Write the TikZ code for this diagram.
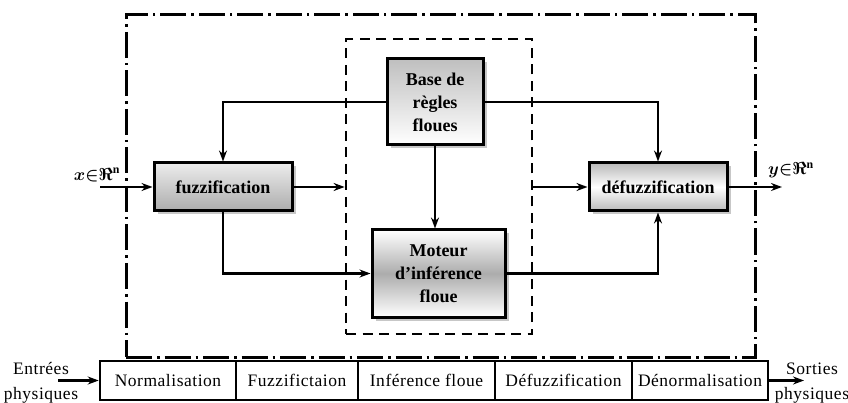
\documentclass[tikz,border=0pt]{standalone}
\usepackage{amsmath,amssymb}
\usepackage{fontspec}
\setmainfont{Liberation Serif}
\newfontfamily\rowfont[LetterSpace=3]{Liberation Serif}
\usetikzlibrary{arrows.meta,shadows}
\tikzset{
  conn/.style={line width=2.4pt,-{Stealth[length=11pt,width=8pt]}},
  blockbox/.style={draw,line width=3pt,align=center,inner sep=0pt,
    font=\fontsize{18}{23}\selectfont\bfseries,
    drop shadow={shadow xshift=3.5pt,shadow yshift=-3.5pt,fill=gray!55,opacity=.8}},
  cell/.style={draw,line width=2.6pt,minimum height=39pt,inner sep=0pt,
    font=\rowfont\fontsize{17.5}{20}\selectfont},
  sidetext/.style={align=center,inner sep=0pt,font=\rowfont\fontsize{17.5}{25}\selectfont},
  mathlabel/.style={inner sep=0pt,font=\fontsize{17}{20}\selectfont}
}
\begin{document}
\begin{tikzpicture}[x=1pt,y=-1pt]
\useasboundingbox (0,0) rectangle (848,403);
% frames
\node[draw,line width=3pt,dash pattern=on 26pt off 5pt on 2.5pt off 5pt,
      minimum width=629pt,minimum height=342pt,inner sep=0pt] (outer) at (440.5,186) {};
\node[draw,line width=2.8pt,dash pattern=on 10pt off 6.5pt,
      minimum width=186pt,minimum height=295pt,inner sep=0pt] (inner) at (439,186.5) {};
% blocks
\node[blockbox,minimum width=96pt,minimum height=86pt,
      top color=gray!50,bottom color=white] (base) at (435,102) {Base de\\règles\\floues};
\node[blockbox,minimum width=133pt,minimum height=87pt,
      top color=white,bottom color=white,middle color=gray!65] (moteur) at (438.5,273.5) {Moteur\\d’inférence\\floue};
\node[blockbox,minimum width=138pt,minimum height=48pt,
      top color=gray!15,bottom color=gray!65] (fuzz) at (223,187) {fuzzification};
\node[blockbox,minimum width=138pt,minimum height=48pt,
      top color=gray!55,bottom color=gray!55,middle color=white] (defuzz) at (658,187) {défuzzification};
% labels
\node[mathlabel] (xlab) at (97,175) {$\boldsymbol{x{\in}\Re^{\mathrm{n}}}$};
\node[mathlabel] (ylab) at (791,170) {$\boldsymbol{y{\in}\Re^{\mathrm{n}}}$};
\coordinate (xin) at (100,187);
\coordinate (yout) at (782,187);
% connectors
\draw[conn] (xin) -- (fuzz.west);
\draw[conn] (defuzz.east) -- (yout);
\draw[conn] (base.west) -| (fuzz.north);
\draw[conn] (base.east) -| (defuzz.north);
\draw[conn] (base.south) -- (base.south |- moteur.north);
\draw[conn] (fuzz.east) -- (fuzz.east -| inner.west);
\draw[conn] (fuzz.south) |- (moteur.west);
\draw[conn] (moteur.east) -| (defuzz.south);
\draw[conn] (inner.east |- defuzz.west) -- (defuzz.west);
% bottom row
\node[cell,minimum width=136pt] (c1) at (168,380.5) {Normalisation};
\node[cell,minimum width=122pt] (c2) at (297,380.5) {Fuzzifictaion};
\node[cell,minimum width=137pt] (c3) at (426.5,380.5) {Inférence floue};
\node[cell,minimum width=137pt] (c4) at (563.5,380.5) {Défuzzification};
\node[cell,minimum width=136pt] (c5) at (700,380.5) {Dénormalisation};
\node[sidetext] (ein) at (41,383) {Entrées\\physiques};
\node[sidetext] (sout) at (812,383) {Sorties\\physiques};
\coordinate (ea) at (58,380.5);
\coordinate (sa) at (804,380.5);
\draw[conn] (ea) -- (c1.west);
\draw[conn] (c5.east) -- (sa);
\end{tikzpicture}
\end{document}
